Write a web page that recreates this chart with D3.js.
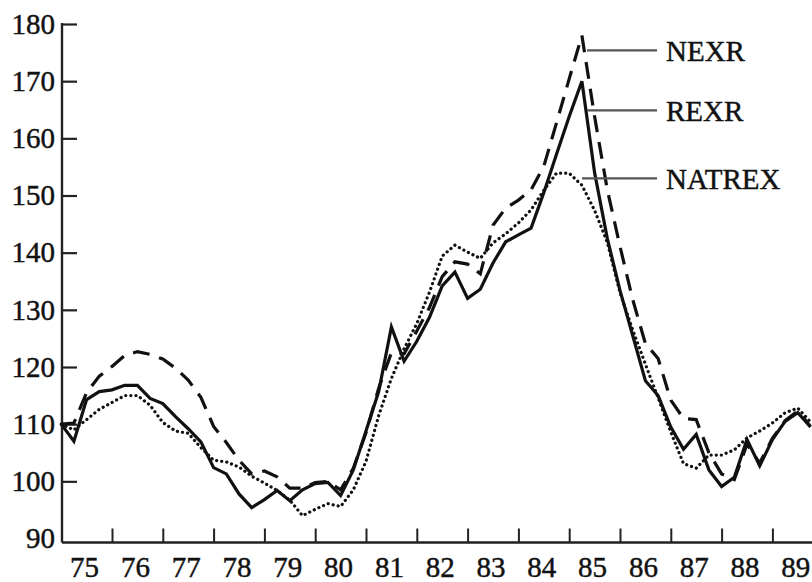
<!DOCTYPE html>
<html>
<head>
<meta charset="utf-8">
<script src="https://cdn.jsdelivr.net/npm/d3@7"></script>
<style>
  html, body { margin: 0; padding: 0; background: #fff; }
  svg { display: block; }
  text { font-family: "Liberation Serif", "Times New Roman", serif; fill: #111; stroke: #111; stroke-width: 0.45px; }
</style>
</head>
<body>
<svg id="chart" width="812" height="582"></svg>
<script>
// Quarterly index values, 1975Q1 onwards
const startYear = 1975;
const yearLabels = ["75","76","77","78","79","80","81","82","83","84","85","86","87","88","89"];
const yTicks = [90, 100, 110, 120, 130, 140, 150, 160, 170, 180];

const nexr = [110,110.2,115.5,118.4,120.1,122,122.7,122.2,121.4,119.8,
              117.7,114.7,109.6,106.8,103.7,101.3,101.8,100.8,98.8,98.8,
              99.8,100,98.5,102.3,108.5,116.3,122.5,122.3,126.3,130.4,
              135.8,138.4,138,136.3,144.8,147.8,149.2,151,155.1,162.7,
              170.4,178,163.8,151,141.1,131.8,124.1,121.5,114.2,111,
              110.8,105,101.3,100.3,106.5,103.2,107.5,110.6,112.3,109.6];

const rexr = [110,107,114.3,115.7,116,116.8,116.8,114.5,113.6,111.3,
              109.2,106.9,102.4,101.3,97.8,95.4,96.8,98.4,96.6,98.5,
              99.6,99.8,97.5,102,108.8,115.7,127,121,124.5,128.7,
              134.2,136.6,132,133.6,138.2,141.9,143.1,144.3,150.5,157.2,
              163.8,170,154,142.5,133.4,125.5,117.6,115,109.5,105.6,
              108.2,102,99.1,100.7,107.3,102.7,107.3,110.5,112,109.5];

const natrex = [110,109,110.8,112.6,113.8,115,115,113.3,110.3,108.8,
                108.4,105.9,103.7,103.4,102.5,100.9,99.7,98.4,96.7,94,
                95.1,96.1,95.6,98.5,103.5,111.5,118,123.2,127.6,133.1,
                139.4,141.3,140.1,139,141.7,143.3,145.2,147.5,150.9,153.9,
                153.9,151.8,147.4,141.8,133,126.5,120.5,114.6,108.6,103.1,
                102.3,104.6,104.6,105.5,107.6,108.8,110.2,112,112.8,110.4];

const seriesNames = ["NEXR", "REXR", "NATREX"];

// ---- layout ----
const W = 812, H = 582;
const axisX = 62, axisBottom = 542.5;
const x = d3.scaleLinear().domain([1975, 1990]).range([61.2, 823.2]);
const y = d3.scaleLinear().domain([90, 180]).range([538.5, 24]);
const tAt = i => startYear + i / 4;

const svg = d3.select("#chart");
svg.append("rect").attr("width", W).attr("height", H).attr("fill", "#fff");

// y axis: ticks pointing into the plot, labels to the left
const yAxis = d3.axisLeft(y).tickValues(yTicks).tickSizeInner(-15).tickSizeOuter(0)
  .tickPadding(7).tickFormat(d3.format("d"));
const gy = svg.append("g").attr("transform", `translate(${axisX},0)`).call(yAxis);
gy.select(".domain").remove();
gy.selectAll(".tick line").attr("stroke", "#222").attr("stroke-width", 2.2)
  .filter(d => d === 90).remove();
gy.selectAll(".tick text").attr("font-size", 29).attr("fill", "#111")
  .attr("font-family", "Liberation Serif, serif");
svg.append("line").attr("x1", axisX).attr("x2", axisX)
  .attr("y1", y(180) - 1).attr("y2", axisBottom)
  .attr("stroke", "#222").attr("stroke-width", 2.4);

// x axis: year boundary ticks pointing up, year labels centred in each year
const years = d3.range(1976, 1990);
const xAxis = d3.axisBottom(x).tickValues(years).tickSizeInner(-14).tickSizeOuter(0).tickFormat("");
const gx = svg.append("g").attr("transform", `translate(0,${axisBottom})`).call(xAxis);
gx.select(".domain").remove();
gx.selectAll(".tick line").attr("stroke", "#222").attr("stroke-width", 2);
svg.append("line").attr("x1", axisX).attr("x2", W)
  .attr("y1", axisBottom).attr("y2", axisBottom)
  .attr("stroke", "#222").attr("stroke-width", 2.4);
svg.append("g").selectAll("text").data(yearLabels).join("text")
  .attr("x", (d, i) => x(startYear + i + 0.5) - 2)
  .attr("y", 577)
  .attr("text-anchor", "middle")
  .attr("font-size", 29)
  .text(d => d);

// series
const line = d3.line().x((d, i) => x(tAt(i))).y(d => y(d)).curve(d3.curveLinear);
const plot = svg.append("g");
plot.append("path").datum(natrex).attr("d", line)
  .attr("fill", "none").attr("stroke", "#111").attr("stroke-width", 3.2)
  .attr("stroke-linecap", "round").attr("stroke-dasharray", "0.1,5");
plot.append("path").datum(nexr).attr("d", line)
  .attr("fill", "none").attr("stroke", "#111").attr("stroke-width", 3.2)
  .attr("stroke-dasharray", "17,10");
plot.append("path").datum(rexr).attr("d", line)
  .attr("fill", "none").attr("stroke", "#111").attr("stroke-width", 3.2)
  .attr("stroke-linejoin", "miter");

// series labels with leader lines
const labelAnchors = [175.4, 164.9, 153];
const leaderStart = [587, 587, 582];
const labels = svg.append("g").selectAll("g").data(seriesNames).join("g");
labels.append("line")
  .attr("x1", (d, i) => leaderStart[i]).attr("x2", 657)
  .attr("y1", (d, i) => y(labelAnchors[i])).attr("y2", (d, i) => y(labelAnchors[i]))
  .attr("stroke", "#555").attr("stroke-width", 2.2);
labels.append("text")
  .attr("x", 666)
  .attr("y", (d, i) => y(labelAnchors[i]) + 11)
  .attr("font-size", 29)
  .text(d => d);
</script>
</body>
</html>
